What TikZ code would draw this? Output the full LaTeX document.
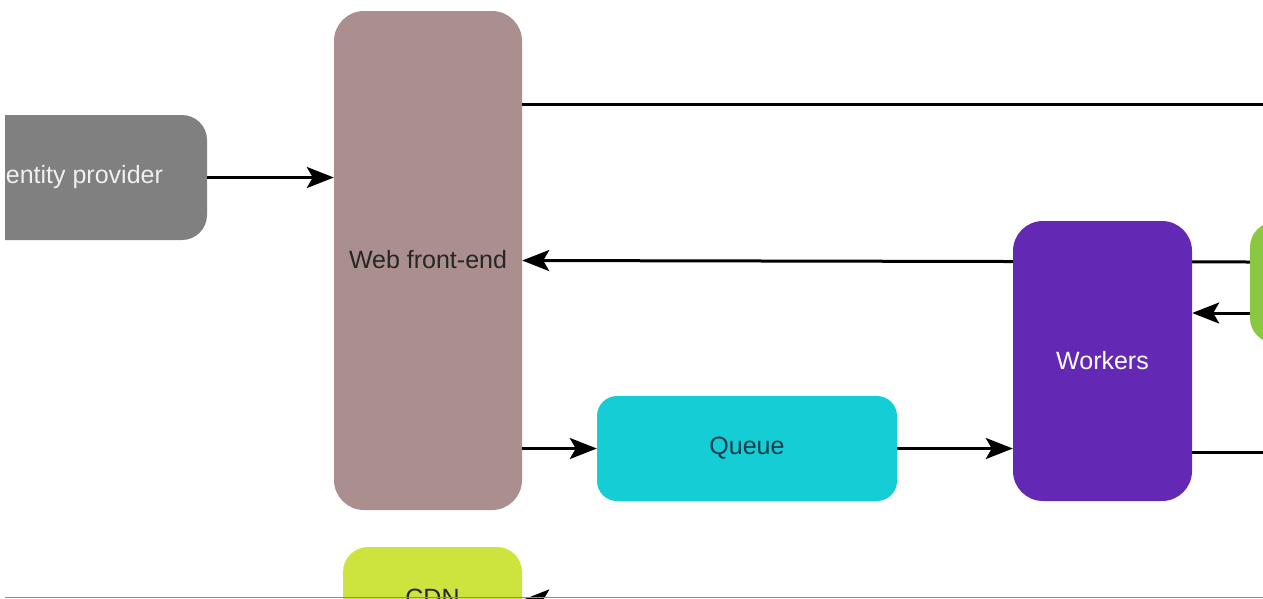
\documentclass[tikz,border=0pt]{standalone}
\usepackage{fontspec}
\setmainfont{Liberation Sans}
\usetikzlibrary{arrows.meta,backgrounds}
\definecolor{idpgrey}{HTML}{808080}
\definecolor{webrose}{HTML}{AB8F8F}
\definecolor{queuecyan}{HTML}{15CDD5}
\definecolor{workviolet}{HTML}{6429B4}
\definecolor{leafgreen}{HTML}{88C940}
\definecolor{cdnlime}{HTML}{CEE43E}
\definecolor{queuetext}{HTML}{1C3C4C}
\tikzset{
  box/.style={rectangle, inner sep=0pt, draw=none, font=\fontsize{25}{29}\selectfont},
  link/.style={line width=3pt, draw=black},
  flow/.style={link, -{Stealth[length=27pt,width=21pt,inset=6pt]}},
}
\begin{document}
\begin{tikzpicture}[x=1pt,y=-1pt]
\useasboundingbox (0,0) rectangle (1263,598);
\clip (5,0) rectangle (1263,598);

% services
\node[box, fill=idpgrey, rounded corners=25pt, text=white!94!black,
      minimum width=266pt, minimum height=125pt] (idp) at (74,177.5) {Identity provider};
\node[box, fill=webrose, rounded corners=30pt, text=black!85,
      minimum width=188pt, minimum height=499pt] (web) at (428,260.5) {\raisebox{2pt}{Web front-end}};
\node[box, fill=queuecyan, rounded corners=20pt, text=queuetext,
      minimum width=300pt, minimum height=105pt] (queue) at (747,448.5) {Queue};
\node[box, fill=workviolet, rounded corners=30pt, text=white,
      minimum width=179pt, minimum height=280pt] (workers) at (1102.5,361) {Workers};
\node[box, fill=leafgreen, rounded corners=25pt,
      minimum width=100pt, minimum height=121pt] (store) at (1300,282.5) {};
\node[box, fill=cdnlime, rounded corners=25pt, text=black!85,
      minimum width=179pt, minimum height=102pt] (cdn) at (432.5,598) {CDN};

% attachment points and loose ends leaving the frame
\coordinate (webin) at ([yshift=-2.5pt]web.west);
\coordinate (storehigh) at ([yshift=20.5pt]store.west);
\coordinate (storelow) at ([yshift=-30.5pt]store.west);
\coordinate (topout) at (1300,104);
\coordinate (workout) at (1300,452);
\coordinate (botout) at (1300,600);

% connectors
\begin{scope}[on background layer]
  \draw[flow] (storehigh) -- (web.east);
\end{scope}
\draw[flow] (idp.east) -- (webin |- idp.east);
\draw[link] (web.east |- topout) -- (topout);
\draw[flow] (storelow) -- (workers.east |- storelow);
\draw[flow] (web.east |- queue.west) -- (queue.west);
\draw[flow] (queue.east) -- (workers.west |- queue.east);
\draw[link] (workers.east |- workout) -- (workout);
\draw[flow] (botout) -- (cdn.east |- botout);

% lower rule
\draw[line width=1.5pt, draw=black!45] (0,597.5) -- (1263,597.5);
\end{tikzpicture}
\end{document}
